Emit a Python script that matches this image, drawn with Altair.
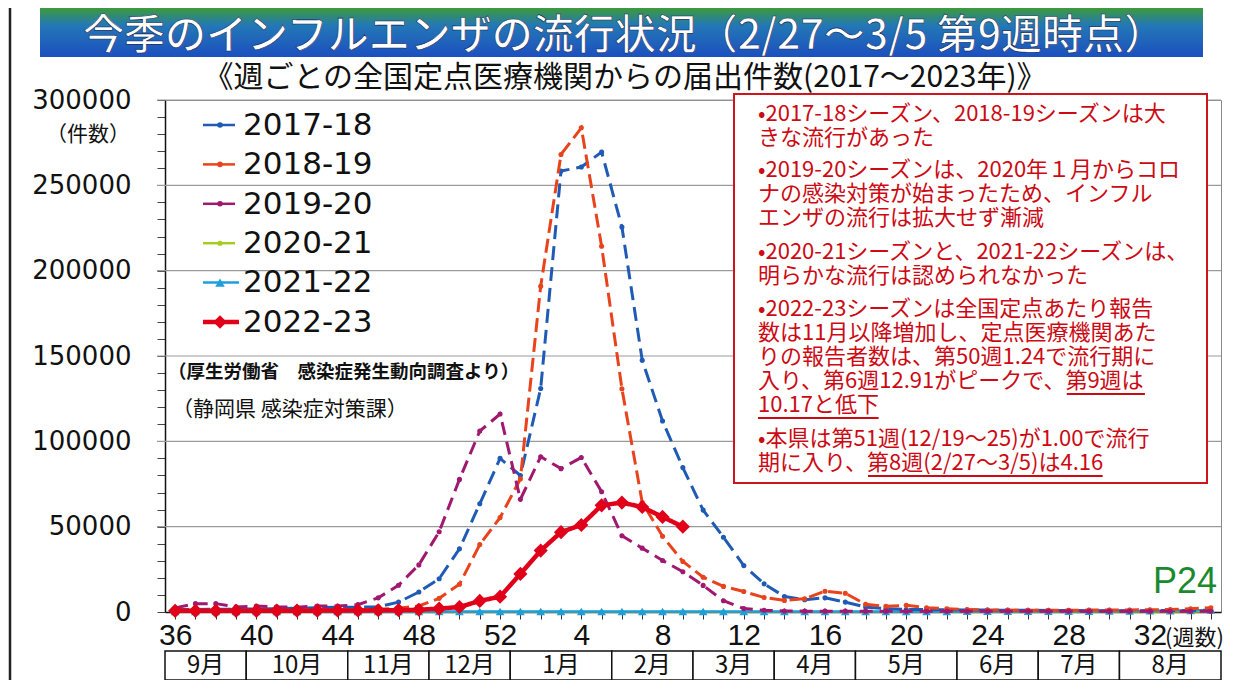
import json
import pandas as pd
import altair as alt

# ---------------- data ----------------
WEEKS = list(range(36, 53)) + list(range(1, 36))          # week numbers on the x axis (52)
SEASONS = ["2017-18", "2018-19", "2019-20", "2020-21", "2021-22", "2022-23"]

V_2017_18 = [1500, 1500, 1600, 1700, 1800, 2000, 2200, 2500, 2800, 2800, 3000, 5800, 11700,
             19500, 37000, 63400, 90000, 80000, 131000, 258400, 260700, 269500, 225600,
             147500, 111900, 84600, 59700, 43800, 27200, 16500, 9100, 7200, 8300, 5800, 2900,
             1900, 1500, 1400, 1300, 1200, 1100, 1000, 1000, 900, 900, 800, 800, 800, 800,
             900, 900, 1000]
V_2018_19 = [1000, 1000, 1000, 1000, 1000, 1100, 1100, 1200, 1300, 1400, 1600, 2200, 3500,
             8000, 16300, 39500, 55300, 78000, 190900, 268100, 283700, 214300, 130800, 64200,
             44400, 29600, 20400, 15000, 12000, 8500, 6800, 7800, 12200, 11000, 4500, 3300,
             3900, 2500, 1900, 1500, 1200, 1100, 1000, 1000, 1000, 1100, 1100, 1200, 1300,
             1500, 1900, 2500]
V_2019_20 = [2400, 4900, 4900, 3000, 3500, 3000, 2800, 3500, 3500, 4300, 8300, 15700, 27600,
             47000, 77700, 106000, 116000, 66000, 91000, 84000, 90500, 70500, 44700, 37400,
             30200, 23600, 15600, 6600, 2000, 1000, 600, 500, 500, 500, 500, 500, 400, 400,
             400, 400, 400, 400, 400, 400, 400, 400, 400, 400, 400, 400, 400, 400]
V_2020_21 = [150, 150, 150, 150, 150, 150, 150, 150, 150, 150, 150, 150, 150, 150, 150, 150,
             150, 150, 150, 120, 120, 120, 120, 120, 120, 120, 120, 120, 120, 120, 120, 120,
             120, 120, 120, 120, 100, 100, 100, 100, 100, 100, 100, 100, 100, 100, 100, 100,
             100, 100, 100, 100]
V_2021_22 = [300, 300, 300, 300, 300, 300, 300, 300, 300, 300, 300, 300, 300, 300, 300, 300,
             300, 300, 300, 300, 300, 300, 300, 300, 300, 300, 300, 300, 300, 300, 300, 300,
             300, 300, 300, 300, 300, 300, 300, 400, 400, 400, 400, 400, 500, 500, 600, 600,
             700, 800, 900, 1100]
V_2022_23 = [700, 700, 700, 700, 700, 800, 800, 800, 900, 900, 1000, 1100, 1300, 2000, 2900,
             6500, 9000, 22300, 36000, 46800, 51000, 62500, 64100, 61500, 55700, 50000]

SERIES_VALUES = [V_2017_18, V_2018_19, V_2019_20, V_2020_21, V_2021_22, V_2022_23]

MONTHS = ["9月", "10月", "11月", "12月", "1月", "2月", "3月", "4月", "5月", "6月", "7月", "8月"]
MONTH_FIRST = [0, 4, 9, 13, 17, 22, 26, 30, 34, 39, 43, 47]
MONTH_LAST = [3, 8, 12, 16, 21, 25, 29, 33, 38, 42, 46, 51]

GRID_VALUES = [50000, 100000, 150000, 200000, 250000, 300000]

TITLE = "今季のインフルエンザの流行状況（2/27～3/5 第9週時点）"
SUBTITLE = "《週ごとの全国定点医療機関からの届出件数(2017～2023年)》"
SOURCE1 = "（厚生労働省　感染症発生動向調査より）"
SOURCE2 = "（静岡県 感染症対策課）"

# each paragraph: list of lines; each line: list of (text, underlined)
ANNOT = [
    [[("•2017-18シーズン、2018-19シーズンは大", False)],
     [("きな流行があった", False)]],
    [[("•2019-20シーズンは、2020年１月からコロ", False)],
     [("ナの感染対策が始まったため、インフル", False)],
     [("エンザの流行は拡大せず漸減", False)]],
    [[("•2020-21シーズンと、2021-22シーズンは、", False)],
     [("明らかな流行は認められなかった", False)]],
    [[("•2022-23シーズンは全国定点あたり報告", False)],
     [("数は11月以降増加し、定点医療機関あた", False)],
     [("りの報告者数は、第50週1.24で流行期に", False)],
     [("入り、第6週12.91がピークで、", False), ("第9週は", True)],
     [("10.17と低下", True)]],
    [[("•本県は第51週(12/19～25)が1.00で流行", False)],
     [("期に入り、", False), ("第8週(2/27～3/5)は4.16", True)]],
]

# ---------------- styles ----------------
W, H = 1056, 512
STYLE = {
    "2017-18": dict(color="#1f5bb5", dash=[14, 7], width=3, shape="circle", size=26),
    "2018-19": dict(color="#e8431c", dash=[14, 6], width=3, shape="circle", size=26),
    "2019-20": dict(color="#a0196f", dash=[13, 7], width=3, shape="circle", size=26),
    "2020-21": dict(color="#a6cc1f", dash=[1, 0], width=2, shape="circle", size=22),
    "2021-22": dict(color="#1e9fdc", dash=[1, 0], width=2.5, shape="triangle-up", size=75),
    "2022-23": dict(color="#e1001a", dash=[1, 0], width=4.5, shape="diamond", size=200),
}
JP = "Noto Sans CJK JP"
RED_TXT = "#cc0a14"

week_labels = json.dumps([str(w) for w in WEEKS])
x_axis = alt.Axis(values=list(range(52)), title=None, grid=False, tickSize=7,
                  tickColor="#333", domainColor="#111", domainWidth=1.5,
                  labelExpr=f"datum.value % 4 === 0 ? {week_labels}[datum.value] : ''",
                  labelFont="Liberation Sans Narrow, Liberation Sans, sans-serif",
                  labelFontSize=30, labelColor="#111", labelPadding=1, labelAngle=0,
                  labelOverlap=False, labelFlush=False)
y_axis = alt.Axis(values=list(range(0, 300001, 10000)), title=None, grid=False, tickSize=8,
                  tickColor="#444", domainColor="#111", domainWidth=1.5, format="d",
                  labelExpr="datum.value % 50000 === 0 ? datum.label : ''",
                  labelFont="DejaVu Sans", labelFontSize=26, labelColor="#111",
                  labelPadding=26, labelOverlap=False, labelFlush=False)
x_scale = alt.Scale(domain=[-0.5, 51.5], nice=False, zero=False)
y_scale = alt.Scale(domain=[0, 300000], nice=False)


def X(field):
    return alt.X(f"{field}:Q", scale=x_scale, axis=x_axis)


def Y(field):
    return alt.Y(f"{field}:Q", scale=y_scale, axis=y_axis)


ONE = pd.DataFrame({"t": [""]})


def txt(s, x, y, **kw):
    return alt.Chart(pd.DataFrame({"t": [s]})).mark_text(**kw).encode(
        x=alt.value(x), y=alt.value(y), text="t:N")


def est_w(s, fs):
    w = 0.0
    for ch in s:
        if ch.isdigit():
            w += 0.553
        elif ch == ".":
            w += 0.27
        elif ch == "-":
            w += 0.35
        elif ch in "()":
            w += 0.33
        elif ch == "/":
            w += 0.38
        elif ch == " ":
            w += 0.22
        else:
            w += 1.0
    return w * fs


layers = []

# gridlines
layers.append(alt.Chart(pd.DataFrame({"v": GRID_VALUES})).mark_rule(
    color="#9a9a9a", strokeWidth=1.2).encode(y=Y("v"), x=alt.value(-8), x2=alt.value(W)))

# annotation box
layers.append(alt.Chart(ONE).mark_rect(fill="white", stroke="#d0141c", strokeWidth=2).encode(
    x=alt.value(569), x2=alt.value(1042), y=alt.value(-6), y2=alt.value(383)))

# series
df = pd.DataFrame([
    {"idx": i, "week": WEEKS[i], "season": s, "value": v}
    for s, vals in zip(SEASONS, SERIES_VALUES) for i, v in enumerate(vals)
])
for s in ["2020-21", "2021-22", "2017-18", "2018-19", "2019-20", "2022-23"]:
    st = STYLE[s]
    layers.append(alt.Chart(df[df.season == s]).mark_line(
        color=st["color"], strokeDash=st["dash"], strokeWidth=st["width"],
        point=alt.OverlayMarkDef(shape=st["shape"], size=st["size"], filled=True,
                                 color=st["color"], opacity=1)
    ).encode(x=X("idx"), y=Y("value")))

# month table
mdf = pd.DataFrame({"m": MONTHS, "a": [f - 0.5 for f in MONTH_FIRST],
                    "b": [l + 0.5 for l in MONTH_LAST],
                    "c": [(f + l) / 2 for f, l in zip(MONTH_FIRST, MONTH_LAST)]})
layers.append(alt.Chart(mdf).mark_rect(fill="white", stroke="#111", strokeWidth=1.5).encode(
    x=X("a"), x2="b:Q", y=alt.value(551), y2=alt.value(580)))
layers.append(alt.Chart(mdf).mark_text(font=JP, fontSize=24, color="#111", baseline="middle").encode(
    x=X("c"), y=alt.value(566), text="m:N"))

# legend (symbols + one multi-line label block)
LEG_Y0, LEG_DY = 25, 39.4
for k, s in enumerate(SEASONS):
    st = STYLE[s]
    yy = LEG_Y0 + k * LEG_DY
    lw = 2.5 if st["width"] < 4 else 4.5
    layers.append(alt.Chart(ONE).mark_rule(color=st["color"], strokeWidth=lw).encode(
        x=alt.value(38), x2=alt.value(70 if k < 4 else 74), y=alt.value(yy)))
    layers.append(alt.Chart(ONE).mark_point(shape=st["shape"], size=st["size"] * (0.9 if k == 5 else 1.2),
                                            filled=True, color=st["color"], opacity=1).encode(
        x=alt.value(55), y=alt.value(yy)))
LFS = 31
layers.append(txt("\n".join(SEASONS), 78, LEG_Y0 + 1 - 0.49 * LFS, font="DejaVu Sans",
                  fontSize=LFS, color="#111", align="left", baseline="top",
                  lineBreak="\n", lineHeight=LEG_DY))

# annotation text: one multi-line text per paragraph, underlines as rules
PARA_Y = [15, 71, 153, 210, 340]
AFS, ALH, AX = 22, 24, 593
for para, y0 in zip(ANNOT, PARA_Y):
    lines = ["".join(seg for seg, _ in line) for line in para]
    layers.append(txt("\n".join(lines), AX, y0 - 0.49 * AFS, font=JP, fontSize=AFS,
                      color=RED_TXT, align="left", baseline="top",
                      lineBreak="\n", lineHeight=ALH))
    for r, line in enumerate(para):
        x0 = AX
        for seg, ul in line:
            w = est_w(seg, AFS)
            if ul:
                layers.append(alt.Chart(ONE).mark_rule(color=RED_TXT, strokeWidth=2).encode(
                    x=alt.value(x0), x2=alt.value(x0 + w), y=alt.value(y0 + r * ALH + 12)))
            x0 += w

# sources & misc texts
layers.append(txt(SOURCE1, 3, 272, font=JP, fontSize=18.5, fontWeight="bold", color="#111",
                  align="left", baseline="middle"))
layers.append(txt(SOURCE2, 7, 310, font=JP, fontSize=21, color="#111",
                  align="left", baseline="middle"))
layers.append(txt("（件数）", -77, 35, font=JP, fontSize=21, color="#111",
                  align="center", baseline="middle"))
layers.append(txt("P24", 1052, 482, font="Liberation Sans Narrow, Liberation Sans, sans-serif",
                  fontSize=36, color="#1b8a2e", align="right", baseline="middle"))
layers.append(txt("(週数)", 1000, 538, font=JP, fontSize=22, color="#111",
                  align="left", baseline="middle"))

# title banner
grad = alt.Gradient(gradient="linear",
                    stops=[alt.GradientStop(color="#3d9a3a", offset=0),
                           alt.GradientStop(color="#2378b6", offset=0.35),
                           alt.GradientStop(color="#1c4fc0", offset=1)],
                    x1=0, x2=0, y1=0, y2=1)
layers.append(alt.Chart(ONE).mark_rect(color=grad).encode(
    x=alt.value(-125), x2=alt.value(1038), y=alt.value(-92), y2=alt.value(-43)))
layers.append(txt(TITLE, 459, -63, font=JP, fontSize=41, fontWeight=500, color="white",
                  stroke="#14285a", strokeWidth=0.6, align="center", baseline="middle"))
layers.append(txt(SUBTITLE, 460, -22, font=JP, fontSize=30, color="#111",
                  align="center", baseline="middle"))

# left frame line
layers.append(alt.Chart(ONE).mark_rule(color="#222", strokeWidth=2.5).encode(
    x=alt.value(-155), y=alt.value(-92), y2=alt.value(580)))

chart = alt.layer(*layers).properties(
    width=W, height=H,
    autosize=alt.AutoSizeParams(type="none"),
    padding={"left": 157, "top": 92, "right": 8, "bottom": 68},
    background="white",
).configure_view(stroke="#8a8a8a", strokeWidth=1)

chart.save("out.html", embed_options={"renderer": "svg", "actions": False})
